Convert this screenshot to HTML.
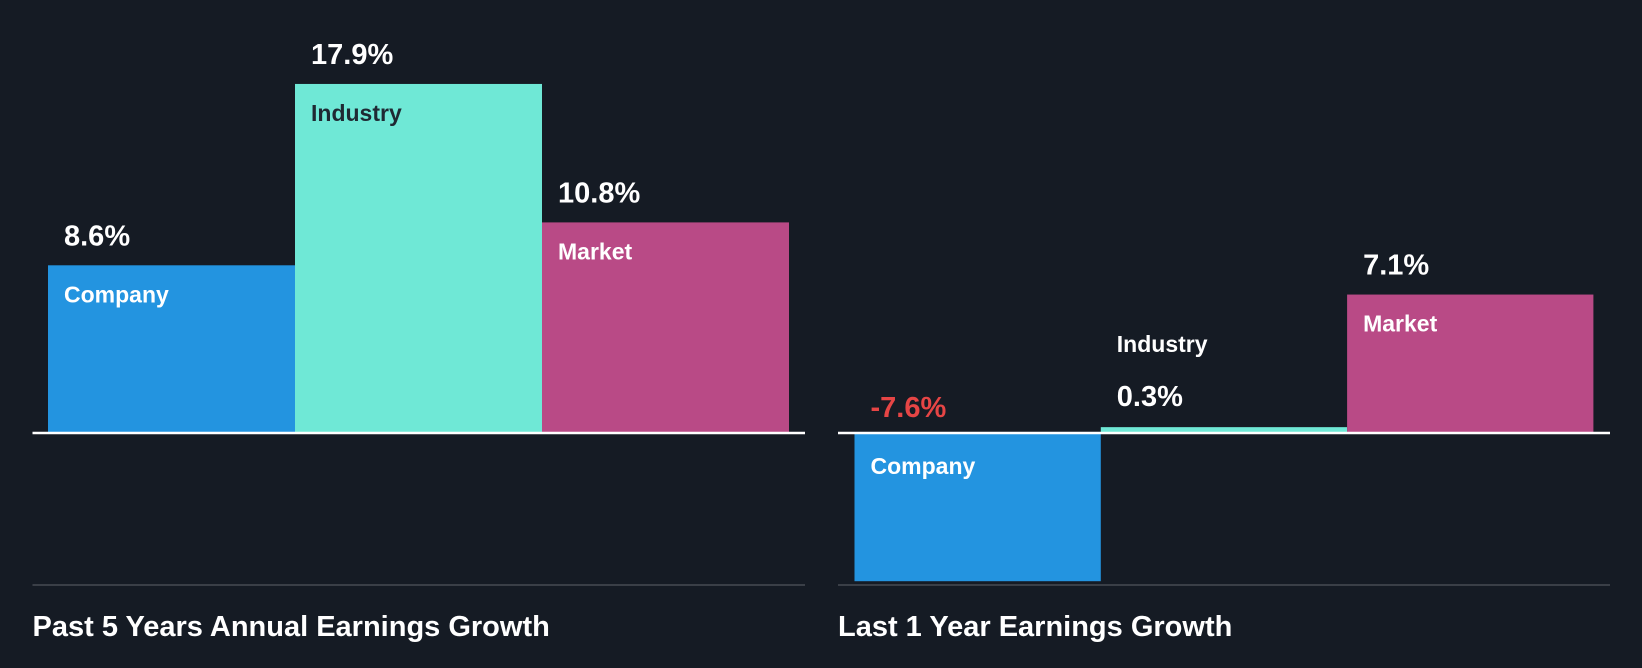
<!DOCTYPE html>
<html><head><meta charset="utf-8">
<style>
html,body{margin:0;padding:0;background:#151b24;}
svg{display:block;font-family:"Liberation Sans",sans-serif;font-weight:bold;}
</style></head>
<body>
<svg id="c" width="1642" height="668" viewBox="0 0 1642 668">
<rect width="1642" height="668" fill="#151b24"/>
</svg>
<script>
const categories = ["Company", "Industry", "Market"];
const past5Values = [8.6, 17.9, 10.8];
const last1Values = [-7.6, 0.3, 7.1];
const panelTitles = ["Past 5 Years Annual Earnings Growth", "Last 1 Year Earnings Growth"];
const colors = ["#2394e0", "#6fe8d6", "#b94a86"];
const NS = "http://www.w3.org/2000/svg";
const svg = document.getElementById("c");
const baseY = 433, pxPer = 19.5;
function y(v){ return baseY - v*pxPer; }
function mk(tag, attrs){ const e=document.createElementNS(NS,tag); for(const k in attrs) e.setAttribute(k,attrs[k]); svg.appendChild(e); return e; }
const panels = [{x0:32.5,x1:805,bx:48,bw:247,vals:past5Values},{x0:838,x1:1610,bx:854.5,bw:246.3,vals:last1Values}];
panels.forEach((p,pi)=>{
  const g=mk("line",{x1:p.x0,x2:p.x1,y1:585,y2:585,stroke:"#3a3f47","stroke-width":2});
  
  
  p.vals.forEach((v,i)=>{
    const x=p.bx+i*p.bw;
    const top=Math.min(y(v),baseY), h=Math.max(Math.abs(y(v)-baseY),1);
    const r=mk("rect",{x:x,y:top,width:p.bw,height:h,fill:colors[i]});
    
    
    const small = Math.abs(v)*pxPer < 60;
    const labelColor = i===1 ? "#1f2933" : "#ffffff";
    let vy, cy, cColor=labelColor;
    if(v<0){ vy=baseY-16; cy=baseY+41; }
    else if(small){ cy=y(v)-70; vy=y(v)-16; cColor="#ffffff"; }
    else { vy=y(v)-20; cy=y(v)+37; }
    const vt=mk("text",{x:x+16,y:vy,"font-size":29,fill:v<0?"#e64545":"#ffffff"});
    vt.textContent=v.toFixed(1)+"%";
    
    
    if(small && v>=0){ vt.setAttribute('y', y(v)-21); cy=y(v)-75; }
    const ct=mk("text",{x:x+16,y:cy,"font-size":23,fill:cColor});
    ct.textContent=categories[i];
    
    
  });
  const b=mk("line",{x1:p.x0,x2:p.x1,y1:baseY,y2:baseY,stroke:"#ffffff","stroke-width":2.5});
  
  
  const t=mk("text",{x:p.x0,y:636,"font-size":29,fill:"#ffffff"});
  t.textContent=panelTitles[pi];
  
  
});
</script>
</body></html>
